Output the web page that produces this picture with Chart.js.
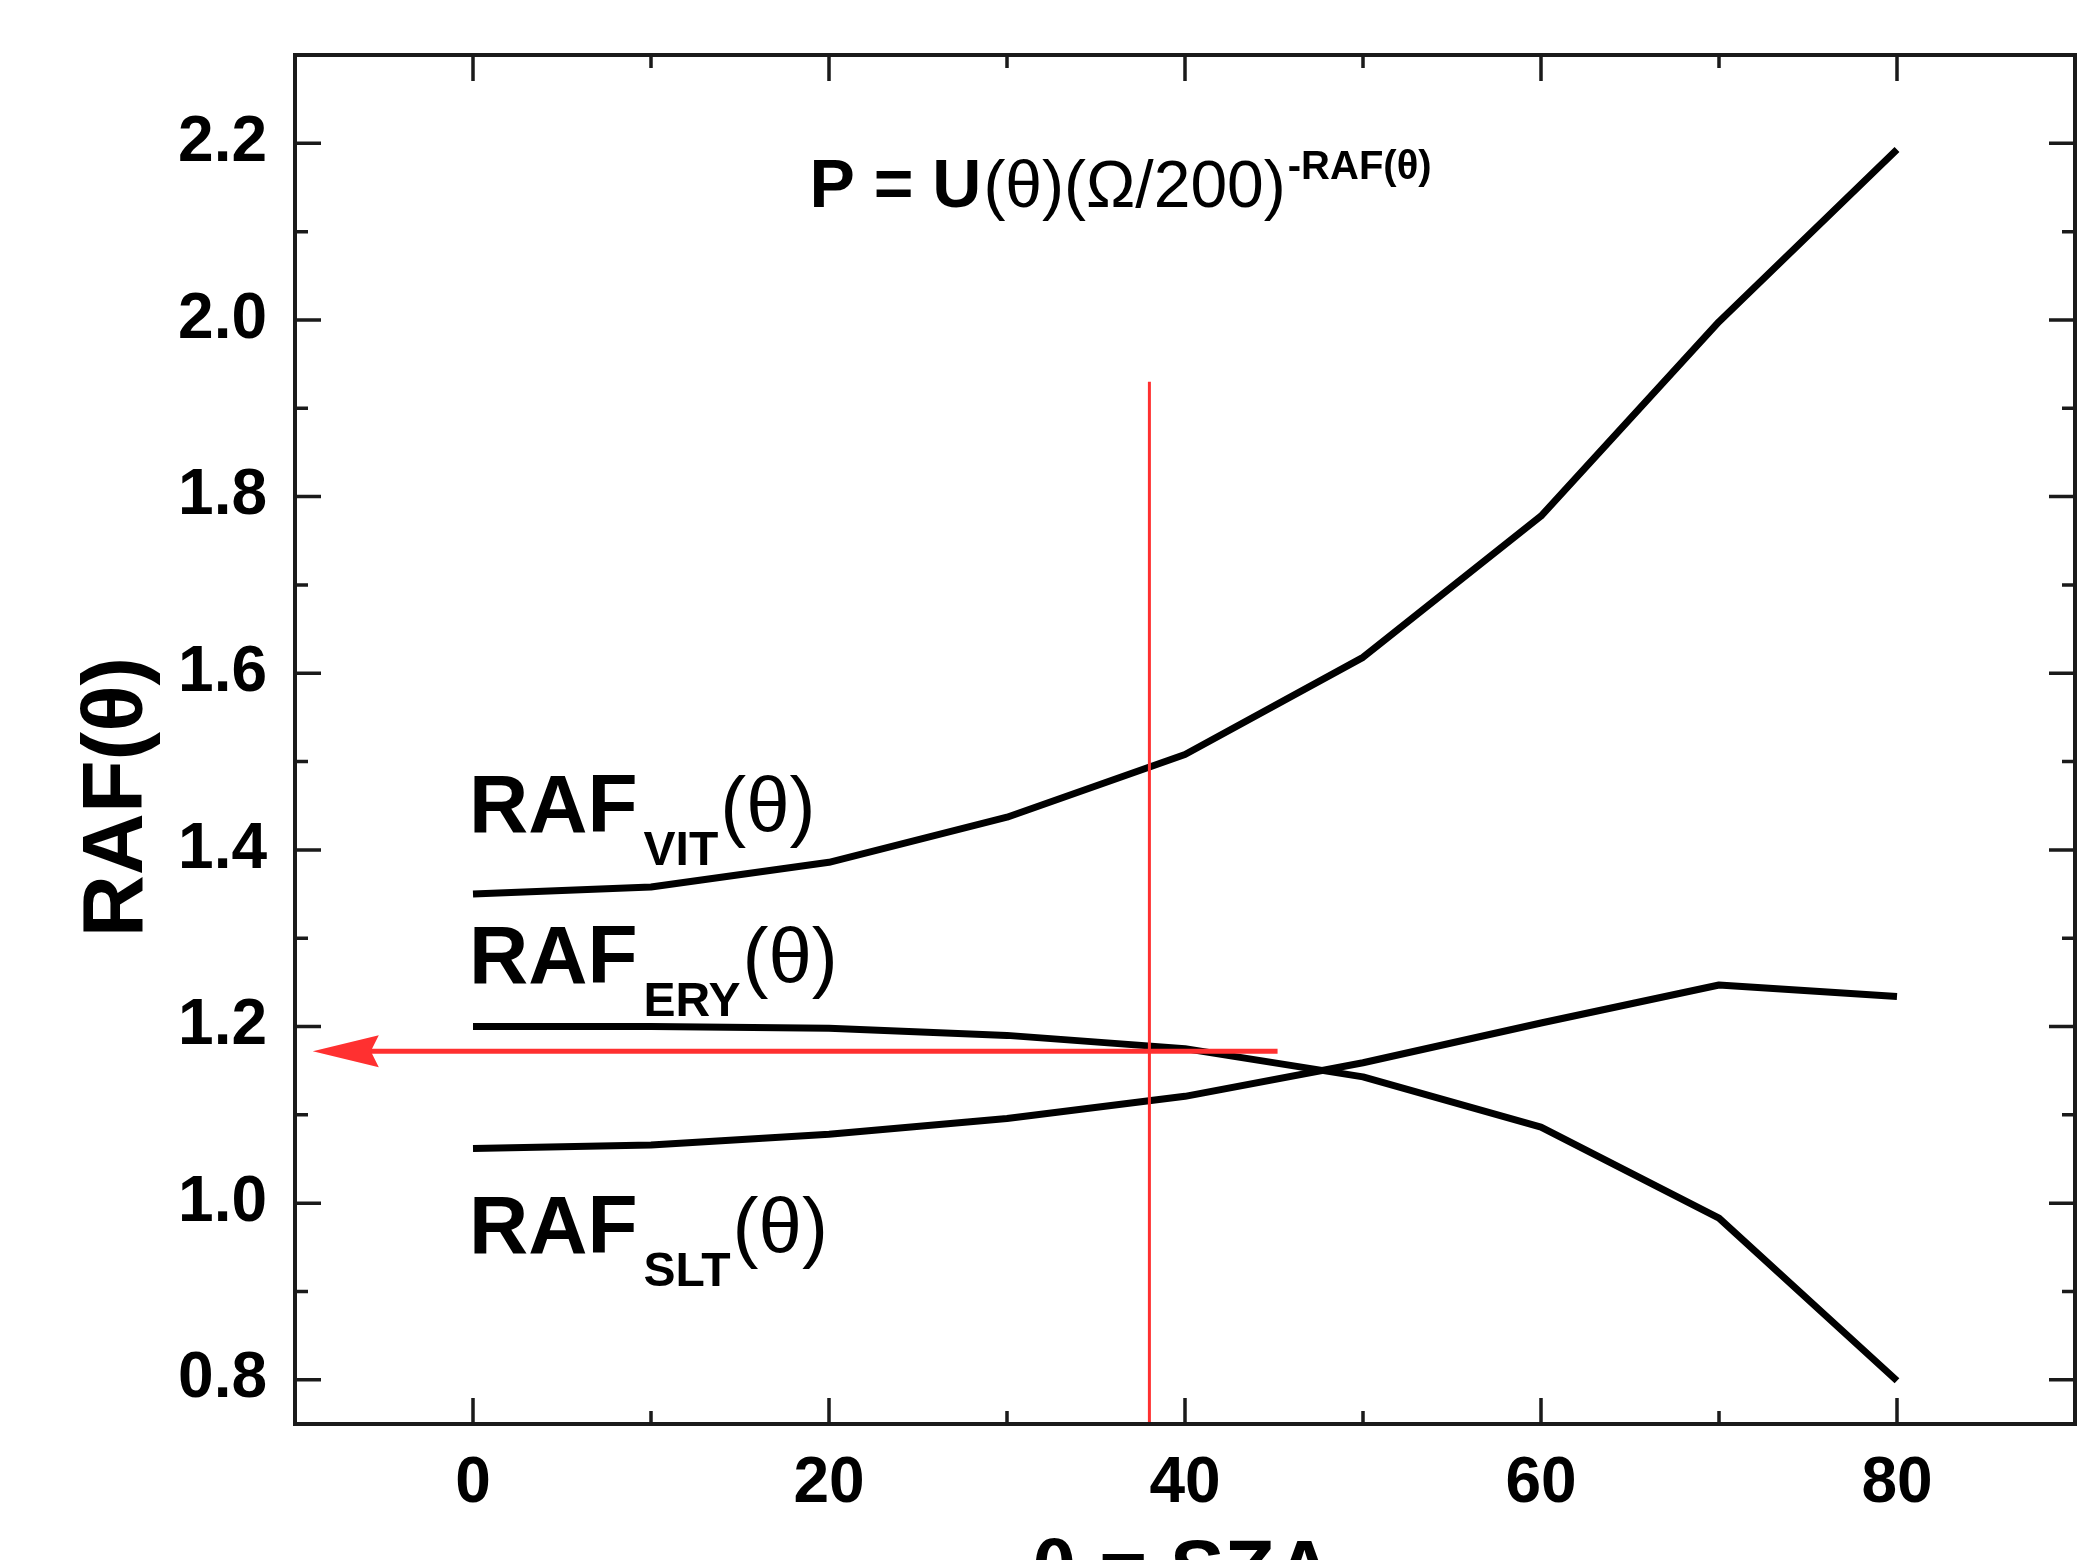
<!DOCTYPE html>
<html>
<head>
<meta charset="utf-8">
<script src="https://cdn.jsdelivr.net/npm/chart.js@4.4.1/dist/chart.umd.min.js"></script>
<style>
  html, body { margin: 0; padding: 0; background: #fff; overflow: hidden; }
  canvas { display: block; }
</style>
</head>
<body>
<canvas id="raf" width="2091" height="1560"></canvas>
<script>
// solar zenith angle (deg)
const sza = [0, 10, 20, 30, 40, 50, 60, 70, 80];
// radiation amplification factors
const rafVit = [1.350, 1.358, 1.386, 1.437, 1.508, 1.618, 1.778, 1.998, 2.193];
const rafEry = [1.200, 1.200, 1.198, 1.190, 1.175, 1.143, 1.086, 0.983, 0.799];
const rafSlt = [1.062, 1.066, 1.078, 1.096, 1.121, 1.159, 1.204, 1.247, 1.234];
// ticks
const xTicks = [0, 20, 40, 60, 80];
const xMinor = [10, 30, 50, 70];
const yTicks = [0.8, 1.0, 1.2, 1.4, 1.6, 1.8, 2.0, 2.2];
const yMinor = [0.9, 1.1, 1.3, 1.5, 1.7, 1.9, 2.1];
// red read-off guide: theta = 38 deg gives RAF_ERY ~ 1.17
const guideSza = 38;
const guideTop = 1.93;
const guideRaf = 1.172;
const guideFrom = 45.2;
const guideTip = -9;
// curve names, anchored at data coords (baseline of "RAF")
const curveNames = [
  { sub: 'VIT', x: 0, y: 1.420 },
  { sub: 'ERY', x: 0, y: 1.249 },
  { sub: 'SLT', x: 0, y: 0.944 },
];

const FONT = '"Liberation Sans", Arial, sans-serif';
const RED = 'rgb(255,48,48)';

const pts = (ys) => sza.map((x, i) => ({ x: x, y: ys[i] }));

// frame, inward ticks, titles, arrowhead and the text in the plot
const framePlugin = {
  id: 'frame',
  afterDraw(chart) {
    const ctx = chart.ctx;
    const a = chart.chartArea;
    const xs = chart.scales.x;
    const ys = chart.scales.y;
    ctx.save();

    // arrow head at the left end of the red line
    const tipX = xs.getPixelForValue(guideTip);
    const tipY = ys.getPixelForValue(guideRaf);
    ctx.fillStyle = RED;
    ctx.beginPath();
    ctx.moveTo(tipX, tipY);
    ctx.lineTo(tipX + 66, tipY - 16);
    ctx.lineTo(tipX + 58, tipY);
    ctx.lineTo(tipX + 66, tipY + 16);
    ctx.closePath();
    ctx.fill();

    // box
    ctx.strokeStyle = '#1a1a1a';
    ctx.lineWidth = 4;
    ctx.strokeRect(a.left, a.top, a.right - a.left, a.bottom - a.top);

    // ticks on all four sides, pointing in
    ctx.lineWidth = 3.5;
    ctx.beginPath();
    const xt = (v, len) => {
      const p = xs.getPixelForValue(v);
      ctx.moveTo(p, a.bottom); ctx.lineTo(p, a.bottom - len);
      ctx.moveTo(p, a.top); ctx.lineTo(p, a.top + len);
    };
    const yt = (v, len) => {
      const p = ys.getPixelForValue(v);
      ctx.moveTo(a.left, p); ctx.lineTo(a.left + len, p);
      ctx.moveTo(a.right, p); ctx.lineTo(a.right - len, p);
    };
    xTicks.forEach(v => xt(v, 26));
    xMinor.forEach(v => xt(v, 13));
    yTicks.forEach(v => yt(v, 26));
    yMinor.forEach(v => yt(v, 13));
    ctx.stroke();

    ctx.fillStyle = '#000';
    ctx.textBaseline = 'alphabetic';

    // y title
    ctx.save();
    ctx.translate(142, 797);
    ctx.rotate(-Math.PI / 2);
    ctx.textAlign = 'center';
    ctx.font = 'bold 86px ' + FONT;
    ctx.fillText('RAF(θ)', 0, 0);
    ctx.restore();

    // x title, mostly below the page edge like the original crop
    ctx.textAlign = 'center';
    ctx.font = 'bold 82px ' + FONT;
    ctx.fillText('θ = SZA', xs.getPixelForValue(40) - 2, 1597);

    // formula
    ctx.textAlign = 'left';
    let fx = xs.getPixelForValue(18.9);
    const fy = ys.getPixelForValue(2.128);
    ctx.font = 'bold 68px ' + FONT;
    ctx.fillText('P = U', fx, fy);
    fx += ctx.measureText('P = U').width + 2;
    ctx.font = '66px ' + FONT;
    ctx.fillText('(θ)(Ω/200)', fx, fy);
    fx += ctx.measureText('(θ)(Ω/200)').width + 2;
    ctx.font = 'bold 40px ' + FONT;
    ctx.fillText('-RAF(θ)', fx, fy - 28);

    // curve names
    curveNames.forEach(n => {
      let x = xs.getPixelForValue(n.x) - 4;
      const y = ys.getPixelForValue(n.y);
      ctx.font = 'bold 82px ' + FONT;
      ctx.fillText('RAF', x, y);
      x += ctx.measureText('RAF').width + 6;
      ctx.font = 'bold 48px ' + FONT;
      ctx.fillText(n.sub, x, y + 33);
      x += ctx.measureText(n.sub).width + 2;
      ctx.font = '78px ' + FONT;
      ctx.fillText('(θ)', x, y);
    });

    ctx.restore();
  }
};

new Chart(document.getElementById('raf'), {
  type: 'line',
  plugins: [framePlugin],
  data: {
    datasets: [
      {
        // red vertical read-off line
        data: [{ x: guideSza, y: 0.75 }, { x: guideSza, y: guideTop }],
        borderColor: RED,
        borderWidth: 3,
      },
      {
        // red horizontal line towards the y axis
        data: [{ x: guideFrom, y: guideRaf }, { x: guideTip + 3, y: guideRaf }],
        borderColor: RED,
        borderWidth: 5,
      },
      { label: 'VIT', data: pts(rafVit), borderColor: '#000', borderWidth: 7 },
      { label: 'ERY', data: pts(rafEry), borderColor: '#000', borderWidth: 7 },
      { label: 'SLT', data: pts(rafSlt), borderColor: '#000', borderWidth: 7 },
    ],
  },
  options: {
    responsive: false,
    animation: false,
    devicePixelRatio: 1,
    layout: { padding: { top: 55, right: 16, left: 0, bottom: 0 } },
    elements: {
      point: { radius: 0 },
      line: { tension: 0, borderJoinStyle: 'round', fill: false },
    },
    plugins: {
      legend: { display: false },
      tooltip: { enabled: false },
    },
    scales: {
      x: {
        type: 'linear',
        min: -10,
        max: 90,
        grid: { display: false, drawTicks: false },
        border: { display: false },
        afterBuildTicks: (s) => { s.ticks = xTicks.map(v => ({ value: v })); },
        afterFit: (s) => { s.height = 136; s.paddingLeft = 0; s.paddingRight = 0; },
        ticks: {
          autoSkip: false,
          maxRotation: 0,
          padding: 22,
          color: '#000',
          font: { family: FONT, size: 64, weight: 'bold' },
        },
      },
      y: {
        type: 'linear',
        min: 0.75,
        max: 2.3,
        grid: { display: false, drawTicks: false },
        border: { display: false },
        afterBuildTicks: (s) => { s.ticks = yTicks.map(v => ({ value: v })); },
        afterFit: (s) => { s.width = 295; s.paddingTop = 0; s.paddingBottom = 0; },
        ticks: {
          autoSkip: false,
          padding: 28,
          color: '#000',
          font: { family: FONT, size: 64, weight: 'bold' },
          callback: (v) => Number(v).toFixed(1),
        },
      },
    },
  },
});
</script>
</body>
</html>
